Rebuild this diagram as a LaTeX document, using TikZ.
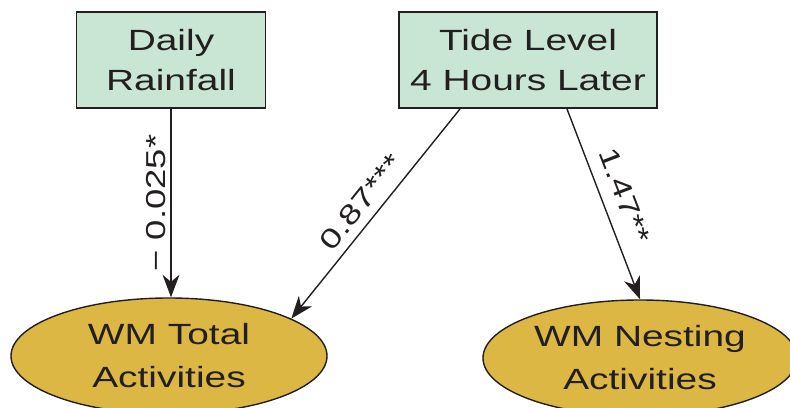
\documentclass[tikz,border=0pt]{standalone}
\usepackage{fontspec}
\setmainfont{Liberation Sans}[FakeStretch=1.33]
\usepackage{tikz}
\usetikzlibrary{shapes.geometric, arrows.meta}
\definecolor{boxgreen}{RGB}{201,229,211}
\definecolor{ellgold}{RGB}{221,183,68}
\definecolor{inkdark}{RGB}{35,31,32}

\begin{document}
\begin{tikzpicture}[
    factor/.style={rectangle, draw=inkdark, line width=1.4pt, fill=boxgreen, minimum height=2.4cm, align=center, text=inkdark, font=\fontsize{20.8}{28.5}\selectfont},
    outcome/.style={ellipse, draw=inkdark, line width=1pt, fill=ellgold, minimum width=7.9cm, minimum height=2.9cm, inner sep=0pt, align=center, text=inkdark, font=\fontsize{20.8}{30.6}\selectfont},
    effect/.style={draw=inkdark, line width=1pt, -{Stealth[length=16pt, width=12pt, inset=5pt]}},
    coef/.style={font=\fontsize{19.5}{23}\selectfont, text=inkdark, inner sep=3pt}
]
    \useasboundingbox (0,0) rectangle (19.75,10.2);

    % Draw the predictor boxes
    \node[factor, minimum width=4.725cm] (Rain) at (4.275,8.7) {Daily\\Rainfall};
    \node[factor, minimum width=6.45cm] (Tide) at (13.2,8.7) {Tide Level\\4 Hours Later};

    % Draw the response ellipses
    \node[outcome] (Total) at (4.225,1.3) {WM Total\\Activities};
    \node[outcome, minimum width=7.85cm] (Nest) at (16.0,1.25) {WM Nesting\\Activities};

    % Connect predictors to responses
    \draw[effect] (Rain.south) -- (Rain.south |- Total.north)
        node[coef, midway, rotate=90, above] {− 0.025*};
    \draw[effect] ([xshift=-1.7cm]Tide.south) -- (Total.17)
        node[coef, midway, sloped, above=3pt] {0.87***};
    \draw[effect] ([xshift=0.975cm]Tide.south) -- (Nest.north)
        node[coef, midway, sloped, above=6pt] {1.47**};
\end{tikzpicture}
\end{document}
